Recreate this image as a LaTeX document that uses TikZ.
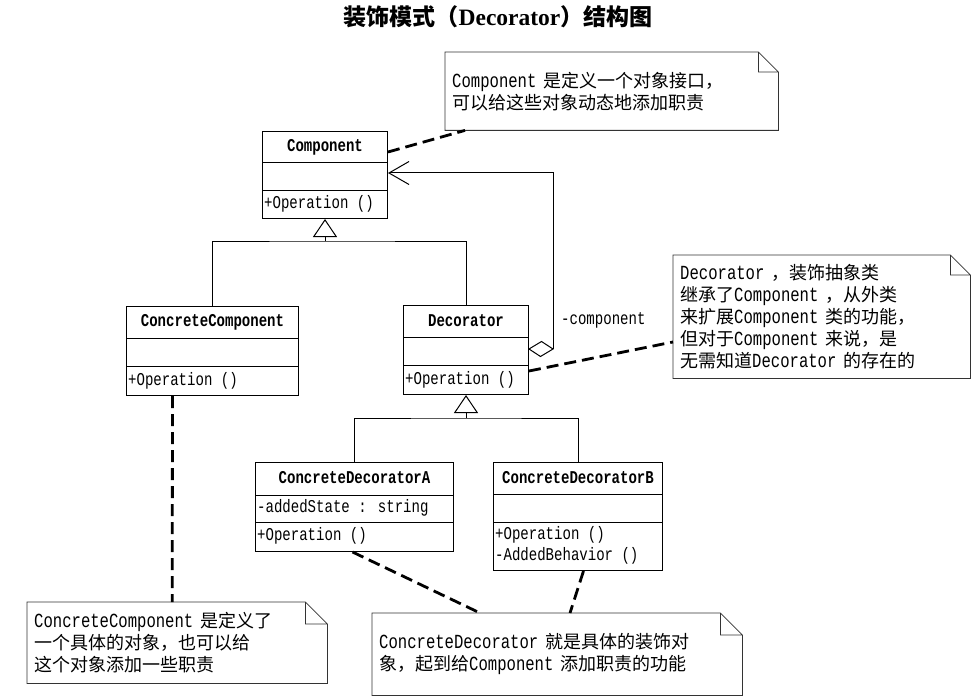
\documentclass[tikz,border=0pt]{standalone}
\usepackage{fontspec}
\setmainfont{Liberation Mono}[FakeStretch=0.78]
\newfontfamily\cjk[Scale=0.9]{Noto Sans CJK SC}
\newfontfamily\serifb{Liberation Serif}
\usetikzlibrary{arrows.meta}
\newcommand{\zh}[1]{{\cjk #1}}

\tikzset{
    cls/.style={draw, line width=1pt, anchor=north west, inner sep=0pt},
    clsname/.style={font=\bfseries\fontsize{18}{20}\selectfont, inner sep=0pt},
    member/.style={font=\fontsize{18}{20}\selectfont, anchor=west, inner sep=0pt, xshift=2pt},
    notebox/.style={anchor=north west, inner xsep=7pt, inner ysep=0pt, align=left, font=\fontsize{20}{22}\selectfont},
    noteline/.style={draw=black!80, line width=0.8pt},
    anchorline/.style={line width=2.8pt, dash pattern=on 12pt off 6pt},
    gen/.style={line width=1pt, -{Triangle[open, fill=white, length=18pt, width=24pt]}}
}

\begin{document}
\begin{tikzpicture}[x=1pt, y=-1pt, >=Stealth]
        \useasboundingbox (0,0) rectangle (975,698);

        \node [font=\serifb\bfseries\fontsize{23.5}{28}\selectfont] (title) at (498,17)
            {\zh{\fontsize{25.6}{28}\selectfont 装饰模式（}Decorator\zh{\fontsize{25.6}{28}\selectfont ）结构图}};

%       class boxes
        \foreach \n/\x/\y/\w/\h in
        {
            component/262/131/125/87,
            concomp/126/306/172/89,
            decorator/403/305/125/89,
            decoA/255/462/198/89,
            decoB/493/462/169/108
        }
        {
            \node [cls, minimum width=\w, minimum height=\h] (\n) at (\x,\y) {};
        }
        \foreach \n/\a/\b in
        {
            component/163/191,
            concomp/338/366,
            decorator/337/365,
            decoA/495/522,
            decoB/494/522
        }
        {
            \draw [line width=1pt] (\n.west |- 0,\a) -- (\n.east |- 0,\a);
            \draw [line width=1pt] (\n.west |- 0,\b) -- (\n.east |- 0,\b);
        }

        \node [clsname] (componentname) at (component.north |- 0,147) {Component};
        \node [clsname] (concompname) at (concomp.north |- 0,322) {ConcreteComponent};
        \node [clsname] (decoratorname) at (decorator.north |- 0,321) {Decorator};
        \node [clsname] (decoAname) at (decoA.north |- 0,478) {ConcreteDecoratorA};
        \node [clsname] (decoBname) at (decoB.north |- 0,478) {ConcreteDecoratorB};

        \node [member] (componentop) at (component.west |- 0,204) {+Operation ()};
        \node [member] (concompop) at (concomp.west |- 0,381) {+Operation ()};
        \node [member] (decoratorop) at (decorator.west |- 0,380) {+Operation ()};
        \node [member] (decoAstate) at (decoA.west |- 0,508) {-addedState : string};
        \node [member] (decoAop) at (decoA.west |- 0,536) {+Operation ()};
        \node [member] (decoBop) at (decoB.west |- 0,535) {+Operation ()};
        \node [member] (decoBadded) at (decoB.west |- 0,556) {-AddedBehavior ()};

%       generalisation
        \coordinate (split1) at (component.south |- 0,241);
        \draw [line width=1pt] (concomp.north) |- (split1) -| (decorator.north);
        \draw [gen] (split1) -- (component.south);

        \coordinate (split2) at (decorator.south |- 0,418);
        \draw [line width=1pt] (decoA.north) |- (split2) -| (decoB.north);
        \draw [gen] (split2) -- (decorator.south);

%       aggregation
        \coordinate (diamondtip) at (553,349);
        \draw [line width=1pt, fill=white] (decorator.east |- diamondtip) -- ++(12.5,-7.5) -- (diamondtip) -- ++(-12.5,7.5) -- cycle;
        \draw [line width=1pt, -{Straight Barb[length=20pt, width=23pt]}] (diamondtip) |- (component.east |- 0,173);
        \node [member] (rolename) at (559,320) {-component};

%       notes
        \node [notebox, text width=319pt, minimum height=78pt] (note1) at (445,52)
            {Component \zh{是定义一个对象接口，}\\\zh{可以给这些对象动态地添加职责}};
        \node [notebox, text width=283pt, minimum height=123pt] (note2) at (673,255)
            {Decorator \zh{，装饰抽象类}\\
             \zh{继承了}Component \zh{，从外类}\\
             \zh{来扩展}Component \zh{类的功能，}\\
             \zh{但对于}Component \zh{来说，是}\\
             \zh{无需知道}Decorator \zh{的存在的}};
        \node [notebox, text width=286pt, minimum height=81pt] (note3) at (27,602)
            {ConcreteComponent \zh{是定义了}\\\zh{一个具体的对象，也可以给}\\\zh{这个对象添加一些职责}};
        \node [notebox, text width=356pt, minimum height=82pt] (note4) at (372,613)
            {ConcreteDecorator \zh{就是具体的装饰对}\\\zh{象，起到给}Component \zh{添加职责的功能}};

        \foreach \n/\e in {note1/20pt, note2/20pt, note3/22pt, note4/22pt}
        {
            \draw [noteline] (\n.south west) -- (\n.north west) -- ([xshift=-\e]\n.north east)
                -- ([yshift=-\e]\n.north east) -- (\n.south east) -- cycle
                ([xshift=-\e]\n.north east) |- ([yshift=-\e]\n.north east);
        }

        \draw [anchorline] (component.east |- 0,152) -- ([xshift=20pt]note1.south west);
        \draw [anchorline] (decorator.east |- 0,371) -- (note2.west |- 0,342);
        \draw [anchorline] ([xshift=-40pt]concomp.south) -- ([xshift=-5pt]note3.north);
        \draw [anchorline] ([xshift=-2pt]decoA.south) -- ([xshift=108pt]note4.north west);
        \draw [anchorline] ([xshift=5.5pt]decoB.south) -- ([xshift=198pt]note4.north west);
\end{tikzpicture}
\end{document}
